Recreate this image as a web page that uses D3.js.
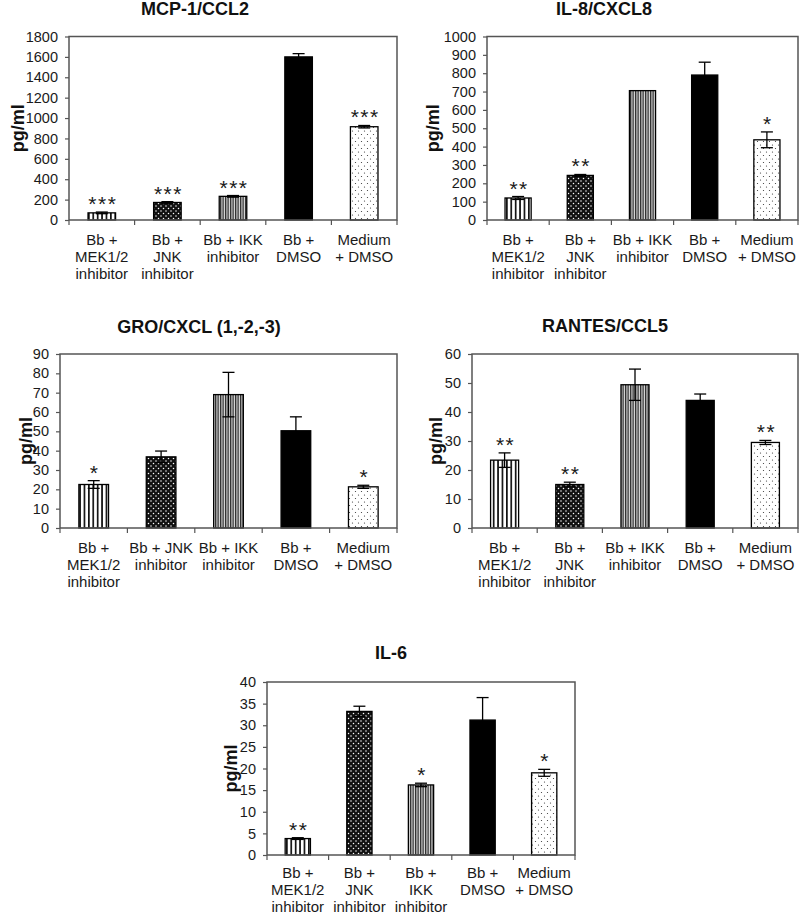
<!DOCTYPE html>
<html>
<head>
<meta charset="utf-8">
<script src="https://cdn.jsdelivr.net/npm/d3@7"></script>
<style>
  html, body { margin: 0; padding: 0; background: #fff; }
  svg { display: block; font-family: "Liberation Sans", Arial, sans-serif; }
</style>
</head>
<body>
<svg id="chart" width="800" height="915"></svg>
<script>
// ---------- DATA ----------
const groups = ["MEK", "JNK", "IKK", "DMSO", "Medium"];

const labelsStd = [["Bb +", "MEK1/2", "inhibitor"], ["Bb +", "JNK", "inhibitor"], ["Bb + IKK", "inhibitor"], ["Bb +", "DMSO"], ["Medium", "+ DMSO"]];
const labelsGro = [["Bb +", "MEK1/2", "inhibitor"], ["Bb + JNK", "inhibitor"], ["Bb + IKK", "inhibitor"], ["Bb +", "DMSO"], ["Medium", "+ DMSO"]];
const labelsIl6 = [["Bb +", "MEK1/2", "inhibitor"], ["Bb +", "JNK", "inhibitor"], ["Bb +", "IKK", "inhibitor"], ["Bb +", "DMSO"], ["Medium", "+ DMSO"]];

const mcpValues = [70, 172, 232, 1600, 915];
const mcpErrors = [8, 8, 8, 32, 12];
const mcpStars  = ["***", "***", "***", "", "***"];
const mcpTicks  = [0, 200, 400, 600, 800, 1000, 1200, 1400, 1600, 1800];

const il8Values = [120, 243, 705, 790, 437];
const il8Errors = [8, 5, 0, 70, 43];
const il8Stars  = ["**", "**", "", "", "*"];
const il8Ticks  = [0, 100, 200, 300, 400, 500, 600, 700, 800, 900, 1000];

const groValues = [22.5, 36.8, 69, 50.3, 21.3];
const groErrors = [2, 3, 11.5, 7.2, 0.8];
const groStars  = ["*", "", "", "", "*"];
const groTicks  = [0, 10, 20, 30, 40, 50, 60, 70, 80, 90];

const rantesValues = [23.4, 15, 49.4, 44, 29.5];
const rantesErrors = [2.5, 0.8, 5.4, 2.2, 0.7];
const rantesStars  = ["**", "**", "", "", "**"];
const rantesTicks  = [0, 10, 20, 30, 40, 50, 60];

const il6Values = [3.8, 33.2, 16.2, 31.2, 19];
const il6Errors = [0.2, 1.2, 0.4, 5.2, 0.8];
const il6Stars  = ["**", "", "*", "", "*"];
const il6Ticks  = [0, 5, 10, 15, 20, 25, 30, 35, 40];

const titles = ["MCP-1/CCL2", "IL-8/CXCL8", "GRO/CXCL (1,-2,-3)", "RANTES/CCL5", "IL-6"];
const yLabel = "pg/ml";

// ---------- LAYOUT ----------
const panels = [
  { title: titles[0], values: mcpValues, errors: mcpErrors, stars: mcpStars, ticks: mcpTicks, labels: labelsStd,
    left: 69, right: 397, top: 36.5, bottom: 220, titleX: 195, titleY: 15, ylabX: 18, barFrac: 0.42, labY: 245 },
  { title: titles[1], values: il8Values, errors: il8Errors, stars: il8Stars, ticks: il8Ticks, labels: labelsStd,
    left: 487, right: 798, top: 36.5, bottom: 220, titleX: 604, titleY: 15, ylabX: 433, barFrac: 0.42, labY: 245 },
  { title: titles[2], values: groValues, errors: groErrors, stars: groStars, ticks: groTicks, labels: labelsGro,
    left: 60, right: 397, top: 354, bottom: 528, titleX: 199, titleY: 333, ylabX: 26, barFrac: 0.44, labY: 553 },
  { title: titles[3], values: rantesValues, errors: rantesErrors, stars: rantesStars, ticks: rantesTicks, labels: labelsStd,
    left: 472, right: 798, top: 354, bottom: 528, titleX: 605, titleY: 332, ylabX: 436, barFrac: 0.43, labY: 553 },
  { title: titles[4], values: il6Values, errors: il6Errors, stars: il6Stars, ticks: il6Ticks, labels: labelsIl6,
    left: 267, right: 575, top: 682, bottom: 855, titleX: 391, titleY: 659, ylabX: 231, barFrac: 0.41, labY: 878 }
];

const svg = d3.select("#chart");

// ---------- PATTERNS ----------
const defs = svg.append("defs");
// MEK: wide vertical stripes
const pMek = defs.append("pattern").attr("id", "p-MEK").attr("patternUnits", "userSpaceOnUse")
  .attr("width", 4.4).attr("height", 4);
pMek.append("rect").attr("width", 4.4).attr("height", 4).attr("fill", "#fff");
pMek.append("rect").attr("x", 0).attr("width", 1.7).attr("height", 4).attr("fill", "#111");
// JNK: black with white dots
const pJnk = defs.append("pattern").attr("id", "p-JNK").attr("patternUnits", "userSpaceOnUse")
  .attr("width", 5).attr("height", 5);
pJnk.append("rect").attr("width", 5).attr("height", 5).attr("fill", "#111");
pJnk.append("circle").attr("cx", 1).attr("cy", 1).attr("r", 0.75).attr("fill", "#fff");
pJnk.append("circle").attr("cx", 3.5).attr("cy", 3.5).attr("r", 0.75).attr("fill", "#fff");
// IKK: fine vertical stripes
const pIkk = defs.append("pattern").attr("id", "p-IKK").attr("patternUnits", "userSpaceOnUse")
  .attr("width", 2.5).attr("height", 4);
pIkk.append("rect").attr("width", 2.5).attr("height", 4).attr("fill", "#dedede");
pIkk.append("rect").attr("x", 0).attr("width", 1.3).attr("height", 4).attr("fill", "#2a2a2a");
// DMSO: solid black
const pDmso = defs.append("pattern").attr("id", "p-DMSO").attr("patternUnits", "userSpaceOnUse")
  .attr("width", 4).attr("height", 4);
pDmso.append("rect").attr("width", 4).attr("height", 4).attr("fill", "#000");
// Medium: white with sparse dots
const pMed = defs.append("pattern").attr("id", "p-Medium").attr("patternUnits", "userSpaceOnUse")
  .attr("width", 6).attr("height", 7);
pMed.append("rect").attr("width", 6).attr("height", 7).attr("fill", "#fff");
pMed.append("circle").attr("cx", 1.5).attr("cy", 1.5).attr("r", 0.6).attr("fill", "#333");
pMed.append("circle").attr("cx", 4.5).attr("cy", 5).attr("r", 0.6).attr("fill", "#333");

// ---------- DRAW ----------
const frameColor = "#555";

panels.forEach(p => {
  const g = svg.append("g");
  const x = d3.scaleBand().domain(groups).range([p.left, p.right]).paddingInner(0).paddingOuter(0);
  const y = d3.scaleLinear().domain([0, p.ticks[p.ticks.length - 1]]).range([p.bottom, p.top]);
  const bw = x.bandwidth() * p.barFrac;

  // title
  g.append("text").attr("x", p.titleX).attr("y", p.titleY).attr("text-anchor", "middle")
    .attr("font-size", 18).attr("font-weight", "bold").attr("fill", "#111").text(p.title);

  // y label
  g.append("text").attr("transform", `translate(${p.ylabX},${(p.top + p.bottom) / 2}) rotate(-90)`)
    .attr("text-anchor", "middle").attr("dy", "0.35em")
    .attr("font-size", 18).attr("font-weight", "bold").attr("fill", "#111").text(yLabel);

  // y axis
  const ya = g.append("g").attr("transform", `translate(${p.left},0)`)
    .call(d3.axisLeft(y).tickValues(p.ticks).tickSize(4).tickPadding(7).tickFormat(d3.format("d")));
  ya.select(".domain").remove();
  ya.selectAll(".tick line").attr("stroke", frameColor).attr("stroke-width", 1.2);
  ya.selectAll(".tick text").attr("font-size", 14.5).attr("fill", "#1a1a1a")
    .attr("font-family", "'Liberation Sans', Arial, sans-serif");

  // bars
  g.selectAll("rect.bar").data(groups).enter().append("rect")
    .attr("class", "bar")
    .attr("x", d => x(d) + (x.bandwidth() - bw) / 2)
    .attr("width", bw)
    .attr("y", (d, i) => y(p.values[i]))
    .attr("height", (d, i) => p.bottom - y(p.values[i]))
    .attr("fill", d => `url(#p-${d})`)
    .attr("stroke", "#000").attr("stroke-width", 1.3);

  // error bars
  groups.forEach((d, i) => {
    const e = p.errors[i];
    if (!e) return;
    const cx = x(d) + x.bandwidth() / 2;
    const hi = y(p.values[i] + e), lo = y(p.values[i] - e);
    const cw = Math.min(6, bw / 4);
    g.append("line").attr("x1", cx).attr("x2", cx).attr("y1", hi).attr("y2", lo)
      .attr("stroke", "#000").attr("stroke-width", 1.3);
    g.append("line").attr("x1", cx - cw).attr("x2", cx + cw).attr("y1", hi).attr("y2", hi)
      .attr("stroke", "#000").attr("stroke-width", 1.3);
    g.append("line").attr("x1", cx - cw).attr("x2", cx + cw).attr("y1", lo).attr("y2", lo)
      .attr("stroke", "#000").attr("stroke-width", 1.3);
  });

  // significance stars
  groups.forEach((d, i) => {
    if (!p.stars[i]) return;
    const cx = x(d) + x.bandwidth() / 2;
    const top = y(p.values[i] + p.errors[i]);
    g.append("text").attr("x", cx + 1).attr("y", top - 1).attr("text-anchor", "middle")
      .attr("font-size", 21).attr("letter-spacing", "1.5px").attr("fill", "#1a1a1a").text(p.stars[i]);
  });

  // frame
  g.append("rect").attr("x", p.left).attr("y", p.top).attr("width", p.right - p.left).attr("height", p.bottom - p.top)
    .attr("fill", "none").attr("stroke", frameColor).attr("stroke-width", 1.5);

  // x ticks at band boundaries
  const bounds = groups.map(d => x(d)).concat([p.right]);
  g.selectAll("line.xt").data(bounds).enter().append("line")
    .attr("x1", d => d).attr("x2", d => d).attr("y1", p.bottom).attr("y2", p.bottom + 5)
    .attr("stroke", frameColor).attr("stroke-width", 1.2);

  // category labels
  groups.forEach((d, i) => {
    const cx = x(d) + x.bandwidth() / 2;
    const t = g.append("text").attr("x", cx).attr("y", p.labY).attr("text-anchor", "middle")
      .attr("font-size", 15).attr("fill", "#1a1a1a");
    p.labels[i].forEach((line, k) => {
      t.append("tspan").attr("x", cx).attr("dy", k === 0 ? 0 : 17).text(line);
    });
  });
});
</script>
</body>
</html>
